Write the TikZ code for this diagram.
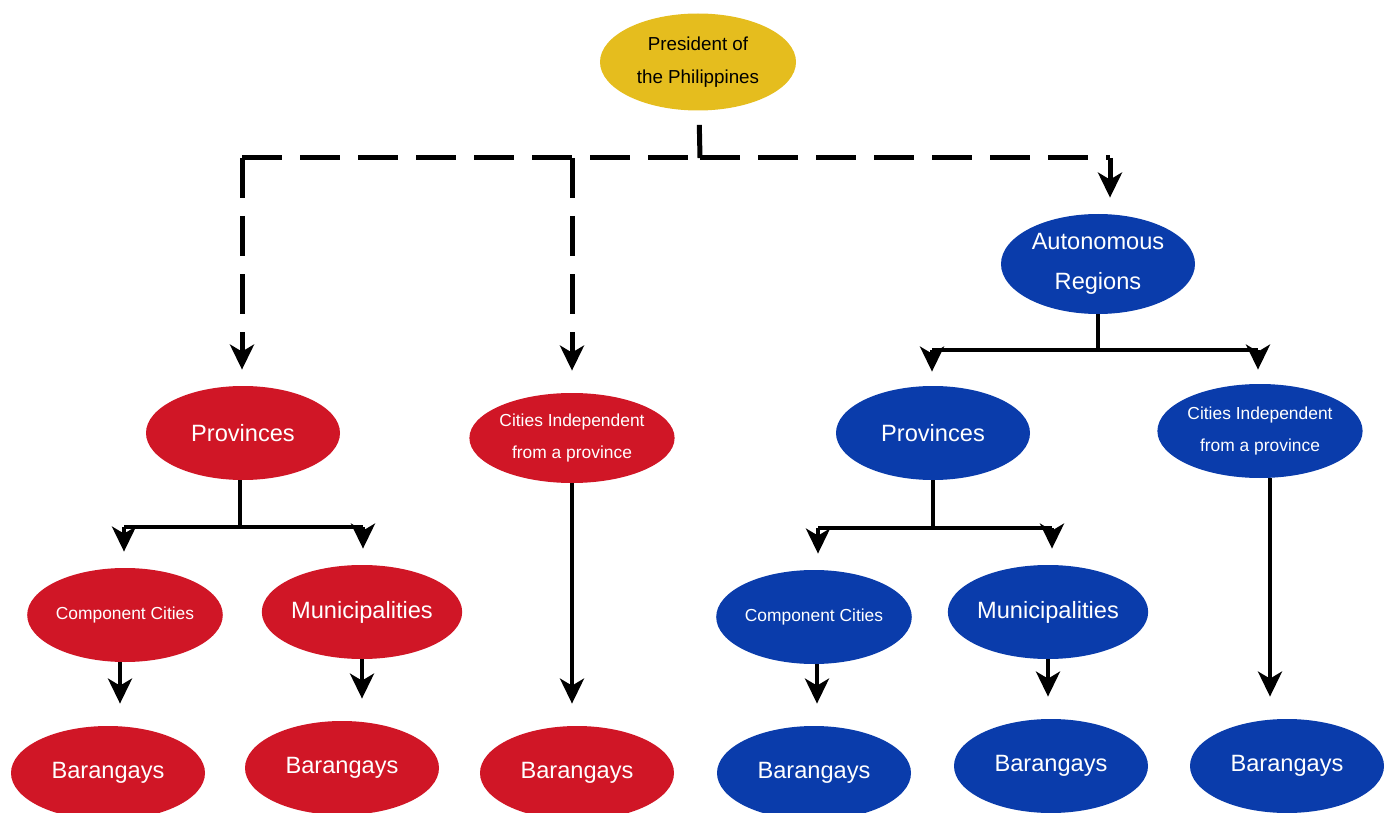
\documentclass[tikz,border=0pt]{standalone}
\usepackage{fontspec}
\setmainfont{Liberation Sans}
\usetikzlibrary{shapes.geometric,arrows.meta}
\definecolor{cred}{HTML}{D01626}
\definecolor{cblue}{HTML}{0A3CAB}
\definecolor{cgold}{HTML}{E5BD1E}
\tikzset{
 bub/.style={ellipse, minimum width=97pt, minimum height=47pt, inner sep=0pt, text=white, align=center, font=\fontsize{11.8}{20}\selectfont},
 redb/.style={bub, fill=cred},
 blueb/.style={bub, fill=cblue},
 smalltxt/.style={font=\fontsize{8.7}{16}\selectfont},
 tip/.style={-{Stealth[length=12.5pt,width=12pt,inset=3.5pt]}},
 arr/.style={line width=2pt, tip},
 plain/.style={line width=2pt},
 dsh/.style={line width=2.5pt, dash pattern=on 20pt off 9pt},
 dsharr/.style={dsh, tip},
}
\begin{document}
\begin{tikzpicture}[x=0.5pt,y=-0.5pt]
\useasboundingbox (0,0) rectangle (1388,813);
% nodes
\node[bub, fill=cgold, text=black, font=\fontsize{9.4}{16.5}\selectfont, minimum width=98pt, minimum height=48.5pt] (pres) at (698,62) {President of\\the Philippines};
\node[redb] (rprov) at (243,433) {Provinces};
\node[redb, smalltxt, minimum height=45pt] (rcity) at (572,438) {Cities Independent\\from a province};
\node[blueb, minimum height=50pt] (auto) at (1098,264) {Autonomous\\Regions};
\node[blueb] (bprov) at (933,433) {Provinces};
\node[blueb, smalltxt] (bcity) at (1260,431) {Cities Independent\\from a province};
\node[redb, smalltxt] (rcomp) at (125,615) {Component Cities};
\node[redb] (rmun) at (362,612) {Municipalities};
\node[blueb, smalltxt] (bcomp) at (814,617) {Component Cities};
\node[blueb] (bmun) at (1048,612) {Municipalities};
\node[redb] (rb1) at (108,773) {Barangays};
\node[redb] (rb2) at (342,768) {Barangays};
\node[redb] (rb3) at (577,773) {Barangays};
\node[blueb] (bb1) at (814,773) {Barangays};
\node[blueb] (bb2) at (1051,766) {Barangays};
\node[blueb] (bb3) at (1287,766) {Barangays};
% top dashed connectors
\coordinate (hub) at (700,158);
\coordinate (hl) at (242,158);
\coordinate (hm) at (572,158);
\coordinate (hr) at (1110,158);
\draw[dsh, shorten <=7pt] (pres) -- (hub);
\draw[dsh] (hl) -- (hub);
\draw[dsh] (hub) -- (hr);
\draw[dsharr, shorten >=8pt] (hl) -- (hl |- rprov.north);
\draw[dsharr, shorten >=11pt] (hm) -- (hm |- rcity.north);
\draw[dsharr, shorten >=8pt] (hr) -- (hr |- auto.north);
% autonomous tree
\coordinate (ja) at (1098,350);
\coordinate (jal) at (932,350);
\coordinate (jar) at (1258,350);
\draw[plain] (auto) -- (ja);
\draw[plain] (jal) -- (jar);
\draw[arr, shorten >=7pt] (jal) -- (jal |- bprov.north);
\draw[arr, shorten >=7pt] (jar) -- (jar |- bcity.north);
% red provinces tree
\coordinate (jr) at (240,527);
\coordinate (jrl) at (124,527);
\coordinate (jrr) at (363,527);
\draw[plain] (rprov.south -| jr) -- (jr);
\draw[plain] (jrl) -- (jrr);
\draw[arr, shorten >=8pt] (jrl) -- (jrl |- rcomp.north);
\draw[arr, shorten >=8pt] (jrr) -- (jrr |- rmun.north);
% blue provinces tree
\coordinate (jb) at (933,528);
\coordinate (jbl) at (818,528);
\coordinate (jbr) at (1052,528);
\draw[plain] (bprov) -- (jb);
\draw[plain] (jbl) -- (jbr);
\draw[arr, shorten >=8pt] (jbl) -- (jbl |- bcomp.north);
\draw[arr, shorten >=8pt] (jbr) -- (jbr |- bmun.north);
% to barangays
\draw[arr, shorten >=11pt] ([xshift=-2.5pt]rcomp.south) -- ([xshift=-2.5pt]rcomp.south |- rb1.north);
\draw[arr, shorten >=11pt] (rmun.south) -- (rmun.south |- rb2.north);
\draw[arr, shorten >=11pt] (rcity) -- (rcity |- rb3.north);
\draw[arr, shorten >=11pt] ([xshift=1.5pt]bcomp.south) -- ([xshift=1.5pt]bcomp.south |- bb1.north);
\draw[arr, shorten >=11pt] (bmun.south) -- (bmun.south |- bb2.north);
\draw[arr, shorten >=11pt] ([xshift=5pt]bcity.south) -- ([xshift=5pt]bcity.south |- bb3.north);
\end{tikzpicture}
\end{document}
